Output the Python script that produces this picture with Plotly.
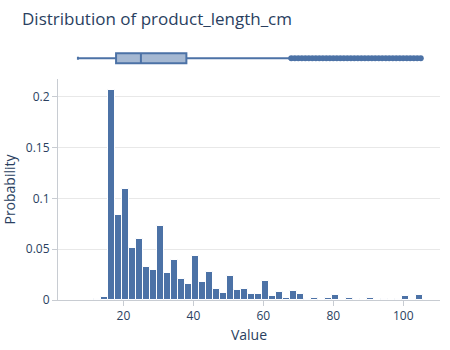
import plotly.graph_objects as go

# Histogram of product_length_cm: bins of width 2 (edges at odd .5 values)
bin_centers = [6.5, 8.5, 10.5, 12.5, 14.5, 16.5, 18.5, 20.5, 22.5, 24.5,
               26.5, 28.5, 30.5, 32.5, 34.5, 36.5, 38.5, 40.5, 42.5, 44.5,
               46.5, 48.5, 50.5, 52.5, 54.5, 56.5, 58.5, 60.5, 62.5, 64.5,
               66.5, 68.5, 70.5, 72.5, 74.5, 76.5, 78.5, 80.5, 82.5, 84.5,
               86.5, 88.5, 90.5, 92.5, 94.5, 96.5, 98.5, 100.5, 102.5, 104.5]
probabilities = [0.0003, 0.0003, 0.0005, 0.001, 0.0026, 0.2065, 0.0839, 0.109, 0.0513, 0.0605,
                 0.0322, 0.0293, 0.0724, 0.027, 0.0395, 0.021, 0.0161, 0.0437, 0.018, 0.0273,
                 0.0112, 0.0072, 0.0237, 0.0102, 0.0109, 0.0056, 0.0056, 0.0184, 0.0043, 0.0076,
                 0.002, 0.0089, 0.006, 0.0013, 0.0023, 0.0007, 0.002, 0.005, 0.0002, 0.0017,
                 0.0007, 0.0003, 0.0023, 0.0005, 0.0007, 0.0003, 0.0007, 0.0043, 0.0003, 0.005]
bin_width = 2

# Box summary statistics
box_min = 7.0
box_q1 = 17.9
box_median = 25.0
box_q3 = 38.0
box_upper_fence = 67.5
outliers = [68, 69, 70, 71, 72, 73, 74, 75, 76, 77, 78, 79, 80, 81, 82, 83, 84,
            85, 86, 87, 88, 89, 90, 91, 92, 93, 94, 95, 96, 97, 98, 99, 100, 101,
            102, 103, 104, 105]

BLUE = "#4c72a6"
FONT = "#2a3f5f"
AXIS = "#c8ccd2"
GRID = "#e8e8e8"

fig = go.Figure()

fig.add_trace(go.Bar(
    x=bin_centers, y=probabilities, width=[bin_width] * len(bin_centers),
    marker=dict(color=BLUE, line=dict(color="white", width=1)),
    xaxis="x", yaxis="y", showlegend=False,
))

fig.add_trace(go.Box(
    y=[0], q1=[box_q1], median=[box_median], q3=[box_q3],
    lowerfence=[box_min], upperfence=[box_upper_fence],
    orientation="h", width=0.25, whiskerwidth=0.3,
    line=dict(color=BLUE, width=2), fillcolor="rgba(76,114,166,0.5)",
    boxpoints=False, xaxis="x2", yaxis="y2", showlegend=False,
))

fig.add_trace(go.Scatter(
    x=outliers, y=[0] * len(outliers), mode="markers",
    marker=dict(color=BLUE, size=6),
    xaxis="x2", yaxis="y2", showlegend=False,
))

x_range = [1.3, 110.5]

fig.update_layout(
    width=450, height=350,
    margin=dict(l=58, r=10, t=35, b=50),
    paper_bgcolor="white", plot_bgcolor="white",
    font=dict(family="Open Sans, verdana, arial, sans-serif", color=FONT, size=12),
    title=dict(text="Distribution of product_length_cm", x=22 / 450, xref="container",
               xanchor="left", y=1 - 19 / 350, yref="container", yanchor="middle",
               font=dict(size=17, color=FONT)),
    bargap=0,
    xaxis=dict(domain=[0, 1], range=x_range, anchor="y", showgrid=False,
               showline=True, linecolor=AXIS, ticks="outside", tickcolor=AXIS,
               ticklen=5, tickvals=[20, 40, 60, 80, 100], zeroline=False,
               automargin=False,
               title=dict(text="Value", font=dict(size=14), standoff=6)),
    yaxis=dict(domain=[0, 0.834], range=[0, 0.2175], anchor="x", showgrid=True,
               gridcolor=GRID, showline=True, linecolor=AXIS, ticks="outside",
               tickcolor=AXIS, ticklen=5, tickvals=[0, 0.05, 0.1, 0.15, 0.2],
               ticktext=["0", "0.05", "0.1", "0.15", "0.2"], zeroline=False,
               automargin=False,
               title=dict(text="Probability", font=dict(size=14), standoff=6)),
    xaxis2=dict(domain=[0, 1], range=x_range, anchor="y2", matches="x",
                visible=False),
    yaxis2=dict(domain=[0.85, 1.0], range=[-0.414, 0.586], anchor="x2",
                visible=False),
)

fig.write_html("out.html")
